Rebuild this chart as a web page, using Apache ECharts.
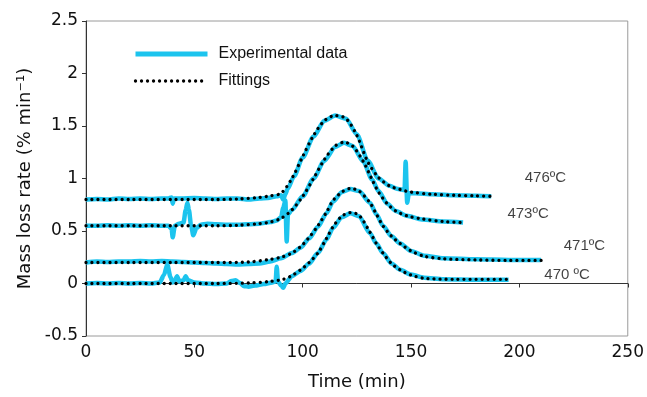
<!DOCTYPE html>
<html>
<head>
<meta charset="utf-8">
<script src="https://cdn.jsdelivr.net/npm/echarts@6/dist/echarts.min.js"></script>
<style>html,body{margin:0;padding:0;background:#fff}#c{width:647px;height:397px}</style>
</head>
<body>
<div id="c"></div>
<script>
// ---- data ----
const xTicks = [0, 50, 100, 150, 200, 250];
const yTicks = [-0.5, 0, 0.5, 1, 1.5, 2, 2.5];

const exp476 = [[0,0.80],[5,0.805],[10,0.80],[15,0.81],[20,0.805],[25,0.81],[30,0.805],[35,0.81],[38,0.81],[39.5,0.82],[40,0.76],[40.6,0.81],[44,0.81],[50,0.815],[55,0.81],[60,0.805],[65,0.81],[70,0.81],[75,0.80],[80,0.81],[84,0.815],[88,0.83],[90,0.84],[91,0.80],[92,0.85],[93,0.90],[96,1.02],[100,1.20],[105,1.40],[110,1.55],[115,1.60],[120,1.57],[125,1.42],[130,1.17],[135,1.00],[140,0.93],[144,0.90],[147,0.89],[147.5,1.16],[148.2,0.77],[149,0.86],[152,0.86],[160,0.85],[170,0.84],[180,0.835],[187,0.83]];
const exp473 = [[0,0.55],[5,0.55],[10,0.555],[15,0.55],[20,0.555],[25,0.55],[30,0.555],[35,0.55],[38,0.55],[39.5,0.52],[40,0.44],[41,0.55],[43,0.57],[45,0.58],[46,0.70],[46.8,0.77],[47.5,0.70],[48.5,0.55],[49.5,0.46],[51,0.53],[53,0.56],[56,0.57],[60,0.565],[65,0.56],[70,0.56],[75,0.565],[80,0.57],[85,0.585],[88,0.60],[90,0.63],[91,0.72],[92,0.79],[92.6,0.40],[93.2,0.66],[95,0.70],[100,0.83],[105,1.00],[110,1.17],[115,1.30],[119,1.34],[123,1.31],[128,1.16],[132,0.99],[135,0.88],[139,0.76],[143,0.69],[148,0.645],[155,0.61],[165,0.59],[174,0.58]];
const exp471 = [[0,0.20],[5,0.21],[10,0.205],[15,0.21],[20,0.21],[25,0.215],[30,0.21],[35,0.215],[40,0.21],[45,0.205],[50,0.20],[55,0.195],[60,0.19],[65,0.185],[70,0.18],[75,0.185],[80,0.19],[85,0.21],[90,0.24],[95,0.29],[99,0.34],[103,0.43],[107,0.54],[111,0.67],[114,0.78],[118,0.87],[122,0.90],[126,0.88],[131,0.77],[134,0.66],[137,0.55],[141,0.45],[145,0.38],[150,0.31],[156,0.265],[165,0.24],[180,0.23],[195,0.225],[210,0.225]];
const exp470 = [[0,0],[5,0.005],[10,0],[15,0.005],[20,0],[25,0.005],[30,0],[34,0.01],[36,0.08],[37.5,0.18],[39,0.06],[40,0.01],[41,0.03],[42,0.07],[43,0.02],[45,0.03],[46,0.07],[47,0.03],[50,0.01],[55,0.0],[60,-0.005],[65,0.0],[67,0.025],[69,0.03],[71,0.005],[73,-0.025],[75,-0.03],[78,-0.02],[82,-0.005],[86,0.01],[87.5,0.02],[88,0.16],[88.6,0.02],[90,-0.02],[91,-0.04],[92,0.0],[95,0.07],[99,0.12],[103,0.19],[107,0.29],[111,0.42],[114,0.53],[118,0.63],[122,0.67],[126,0.64],[131,0.48],[134,0.38],[137,0.29],[141,0.19],[145,0.13],[150,0.085],[156,0.055],[165,0.04],[180,0.035],[195,0.035]];

const fit476 = [[0,0.80],[20,0.80],[40,0.80],[60,0.80],[70,0.805],[80,0.82],[85,0.835],[90,0.86],[95,1.00],[100,1.21],[105,1.41],[110,1.55],[115,1.60],[120,1.57],[125,1.41],[130,1.16],[135,1.01],[140,0.93],[145,0.895],[150,0.87],[160,0.85],[170,0.84],[180,0.835],[188,0.83]];
const fit473 = [[0,0.55],[20,0.55],[40,0.55],[60,0.55],[70,0.555],[80,0.57],[85,0.585],[90,0.62],[95,0.70],[100,0.83],[105,1.00],[110,1.18],[115,1.31],[119,1.345],[123,1.31],[128,1.16],[132,0.99],[135,0.87],[139,0.76],[143,0.69],[148,0.645],[155,0.615],[165,0.59],[174,0.58]];
const fit471 = [[0,0.20],[20,0.20],[40,0.20],[60,0.20],[75,0.205],[85,0.23],[90,0.25],[95,0.29],[99,0.35],[103,0.44],[107,0.55],[111,0.68],[114,0.79],[118,0.87],[122,0.905],[126,0.88],[131,0.77],[134,0.66],[137,0.55],[141,0.45],[145,0.38],[150,0.31],[156,0.26],[165,0.235],[180,0.225],[195,0.22],[210,0.22]];
const fit470 = [[0,0],[20,0],[40,0],[60,0],[75,0.005],[85,0.02],[91,0.04],[95,0.075],[99,0.13],[103,0.20],[107,0.29],[111,0.43],[114,0.54],[118,0.64],[122,0.675],[126,0.65],[131,0.49],[134,0.38],[137,0.29],[141,0.19],[145,0.13],[150,0.08],[156,0.05],[170,0.04],[195,0.04]];

const labelText = ['476ºC', '473ºC', '471ºC', '470 ºC'];
const labelX = [212, 204, 230, 222];
const labelY = [1.01, 0.66, 0.36, 0.08];

// ---- chart ----
const CYAN = '#1cc4ee';
const chart = echarts.init(document.getElementById('c'), null, {renderer: 'canvas'});
function expSeries(d) {
  return {name: 'Experimental data', type: 'line', data: d, showSymbol: false, symbol: 'none',
    smooth: 0.25, smoothMonotone: 'x', lineStyle: {color: CYAN, width: 4.5}, itemStyle: {color: CYAN}, z: 2};
}
function fitSeries(d) {
  return {name: 'Fittings', type: 'line', data: d, showSymbol: false, symbol: 'none', smooth: 0.3,
    lineStyle: {color: '#000', width: 3.3, type: [0.01, 6], cap: 'round'}, itemStyle: {color: '#000'}, z: 3};
}
chart.setOption({
  animation: false,
  textStyle: {fontFamily: 'DejaVu Sans'},
  grid: {left: 86, right: 19, top: 21, bottom: 61, show: true, borderColor: '#9a9a9a', borderWidth: 1, backgroundColor: 'transparent'},
  legend: {
    orient: 'vertical', left: 128, top: 41, itemWidth: 72, itemHeight: 14, itemGap: 11,
    data: [
      {name: 'Experimental data', lineStyle: {width: 5, color: CYAN}},
      {name: 'Fittings', lineStyle: {width: 3.3, color: '#000', type: [0.01, 6], cap: 'round'}}
    ],
    itemStyle: {opacity: 0},
    textStyle: {fontFamily: 'Liberation Sans', fontSize: 16, color: '#111', padding: [0, 0, 0, 6]}
  },
  xAxis: {
    type: 'value', min: xTicks[0], max: xTicks[xTicks.length - 1], interval: 50,
    name: 'Time (min)', nameLocation: 'middle', nameGap: 37,
    nameTextStyle: {fontSize: 18, color: '#111', fontFamily: 'DejaVu Sans'},
    axisLine: {show: true, lineStyle: {color: '#333', width: 1}},
    axisTick: {show: true, length: 4, lineStyle: {color: '#333'}},
    axisLabel: {fontSize: 17, color: '#111', margin: 8},
    splitLine: {show: false}
  },
  yAxis: {
    type: 'value', min: yTicks[0], max: yTicks[yTicks.length - 1], interval: 0.5,
    name: 'Mass loss rate (% min⁻¹)', nameLocation: 'middle', nameGap: 48,
    nameTextStyle: {fontSize: 18, color: '#111', fontFamily: 'DejaVu Sans'},
    axisLine: {show: true, lineStyle: {color: '#333', width: 1}},
    axisTick: {show: true, length: 4, lineStyle: {color: '#333'}},
    axisLabel: {fontSize: 17, color: '#111', margin: 8},
    splitLine: {show: false}
  },
  series: [
    expSeries(exp476), expSeries(exp473), expSeries(exp471), expSeries(exp470),
    fitSeries(fit476), fitSeries(fit473), fitSeries(fit471), fitSeries(fit470),
    {
      type: 'scatter', symbolSize: 0, silent: true, z: 4,
      itemStyle: {color: '#111'},
      data: labelX.map((x, i) => ({value: [x, labelY[i]], label: {formatter: labelText[i]}})),
      label: {show: true, position: 'inside', fontFamily: 'Liberation Sans', fontSize: 15, color: '#111',
        textBorderWidth: 0, textBorderColor: 'transparent'}
    }
  ]
});
</script>
</body>
</html>
